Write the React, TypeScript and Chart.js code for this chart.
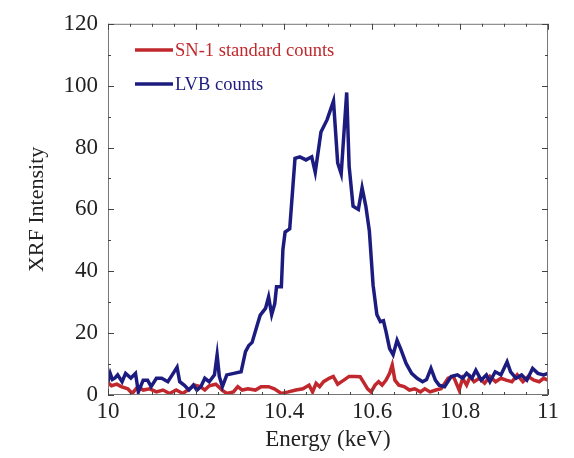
import React, { useEffect, useRef } from "react";
import { Chart, registerables } from "chart.js";

Chart.register(...registerables);

const lvbEnergy = [
  10.0, 10.005, 10.01, 10.016, 10.022, 10.032, 10.04, 10.052, 10.0625, 10.069,
  10.08, 10.09, 10.098, 10.11, 10.122, 10.136, 10.146, 10.157, 10.163, 10.173,
  10.184, 10.194, 10.202, 10.211, 10.22, 10.23, 10.242, 10.248, 10.253, 10.26,
  10.27, 10.286, 10.3025, 10.3125, 10.32, 10.3275, 10.34, 10.346, 10.358, 10.365,
  10.372, 10.379, 10.383, 10.394, 10.3975, 10.4025, 10.413, 10.425, 10.436, 10.45,
  10.463, 10.471, 10.484, 10.498, 10.5125, 10.522, 10.53, 10.5425, 10.548, 10.557,
  10.569, 10.5775, 10.586, 10.594, 10.6025, 10.611, 10.619, 10.626, 10.632, 10.64,
  10.648, 10.657, 10.665, 10.6775, 10.69, 10.7025, 10.715, 10.724, 10.734, 10.744,
  10.7525, 10.765, 10.78, 10.794, 10.806, 10.815, 10.827, 10.836, 10.848, 10.86,
  10.868, 10.88, 10.893, 10.907, 10.915, 10.9275, 10.94, 10.952, 10.965, 10.977,
  10.99, 11.0,
];
const lvbCounts = [
  4.3, 7, 5, 5.5, 6.5, 4.3, 7, 5.5, 7, 1,
  4.8, 4.8, 2.7, 5.4, 5.4, 4.3, 6.5, 9, 4.3, 3.2,
  1.6, 3.2, 1.6, 2.7, 5.4, 4.3, 6.5, 13, 6, 2.7,
  6.5, 7, 7.5, 14, 16, 17, 23, 25.8, 28, 31.7,
  26, 29.5, 35, 35, 47, 52.7, 53.7, 76.5, 77, 76,
  77, 72, 85, 89, 95, 75, 71.5, 97.8, 74, 61,
  60, 67, 61, 53, 35.5, 26, 23.7, 24, 20.4, 15,
  13, 17.7, 15, 10.2, 7, 5.4, 4.3, 5, 8.6, 4.8,
  3.2, 2.7, 6, 6.5, 5.4, 7, 5.4, 8, 4.8, 6.5,
  4.3, 7.5, 6.5, 10.7, 7.5, 5.4, 6.5, 4.8, 8.6, 7,
  6.5, 7,
];

const snEnergy = [
  10.0, 10.008, 10.02, 10.03, 10.045, 10.055, 10.068, 10.08, 10.095, 10.11,
  10.125, 10.14, 10.155, 10.17, 10.185, 10.197, 10.21, 10.22, 10.23, 10.245,
  10.26, 10.27, 10.285, 10.295, 10.305, 10.318, 10.335, 10.348, 10.365, 10.378,
  10.394, 10.41, 10.427, 10.443, 10.457, 10.465, 10.473, 10.481, 10.49, 10.5025,
  10.512, 10.522, 10.536, 10.548, 10.56, 10.573, 10.58, 10.59, 10.598, 10.607,
  10.615, 10.623, 10.632, 10.64, 10.646, 10.652, 10.661, 10.673, 10.685, 10.697,
  10.71, 10.72, 10.732, 10.745, 10.757, 10.773, 10.785, 10.798, 10.806, 10.815,
  10.823, 10.832, 10.844, 10.856, 10.868, 10.881, 10.893, 10.905, 10.918, 10.93,
  10.943, 10.955, 10.968, 10.98, 10.99, 11.0,
];
const snCounts = [
  4, 3, 3.5, 2.7, 2, 0.5, 2.7, 1.6, 2, 1,
  1.6, 0.5, 1.6, 0.5, 2, 3.2, 2.7, 1.6, 3, 3.5,
  1.5, 0.5, 1, 2.7, 1.6, 2, 1.6, 2.7, 2.7, 2,
  0.5, 1, 1.6, 2, 3.2, 1, 3.8, 2.7, 4.3, 5.4,
  6, 3.5, 4.8, 6, 6, 5.9, 4.3, 2, 1, 3.2,
  4.3, 3.2, 4.8, 7, 9.7, 4.8, 3.2, 2.7, 1.6, 2,
  1, 2, 1, 1.6, 2, 5.4, 6, 1.6, 5.4, 3.2,
  6, 4.3, 5.4, 3.8, 6, 4.3, 5.4, 4.8, 4.3, 6.5,
  4.3, 6, 4.8, 4.3, 5.4, 4.8,
];

const xTicks = [10, 10.2, 10.4, 10.6, 10.8, 11];
const yTicks = [0, 20, 40, 60, 80, 100, 120];

const RED = "#c0282d";
const BLUE = "#1c1c80";
const FONT = "'Liberation Serif', 'DejaVu Serif', serif";

const framePlugin = {
  id: "frame",
  afterDraw(chart: any) {
    const { ctx, chartArea } = chart;
    const { left, right, top, bottom } = chartArea;
    const xs = chart.scales.x;
    const ys = chart.scales.y;
    ctx.save();
    ctx.strokeStyle = "#777";
    ctx.lineWidth = 1;
    ctx.strokeRect(left + 0.5, top + 0.5, right - left - 1, bottom - top - 1);
    ctx.strokeStyle = "#444";
    for (let i = 0; i <= 20; i++) {
      const v = 10 + i * 0.05;
      const px = Math.round(xs.getPixelForValue(v)) + 0.5;
      const len = i % 4 === 0 ? 6 : 3;
      ctx.beginPath();
      ctx.moveTo(px, bottom);
      ctx.lineTo(px, bottom - len);
      ctx.moveTo(px, top);
      ctx.lineTo(px, top + len);
      ctx.stroke();
    }
    for (let i = 0; i <= 12; i++) {
      const v = i * 10;
      const py = Math.round(ys.getPixelForValue(v)) + 0.5;
      const len = i % 2 === 0 ? 6 : 3;
      ctx.beginPath();
      ctx.moveTo(left, py);
      ctx.lineTo(left + len, py);
      ctx.moveTo(right, py);
      ctx.lineTo(right - len, py);
      ctx.stroke();
    }
    const items = [
      { label: "SN-1 standard counts", color: RED, y: 50 },
      { label: "LVB counts", color: BLUE, y: 84 },
    ];
    ctx.font = `18.5px ${FONT}`;
    ctx.textBaseline = "middle";
    ctx.textAlign = "left";
    for (const it of items) {
      ctx.strokeStyle = it.color;
      ctx.lineWidth = 3.5;
      ctx.beginPath();
      ctx.moveTo(135, it.y);
      ctx.lineTo(173, it.y);
      ctx.stroke();
      ctx.fillStyle = it.color;
      ctx.fillText(it.label, 175, it.y + 1);
    }
    ctx.restore();
  },
};

export default function App() {
  const ref = useRef<HTMLCanvasElement | null>(null);
  useEffect(() => {
    if (!ref.current) return;
    const chart = new Chart(ref.current, {
      type: "scatter",
      data: {
        datasets: [
          {
            label: "LVB counts",
            data: lvbEnergy.map((x, i) => ({ x, y: lvbCounts[i] })),
            showLine: true,
            borderColor: BLUE,
            borderWidth: 3.5,
            pointRadius: 0,
            tension: 0,
            order: 0,
          },
          {
            label: "SN-1 standard counts",
            data: snEnergy.map((x, i) => ({ x, y: snCounts[i] })),
            showLine: true,
            borderColor: RED,
            borderWidth: 3.5,
            pointRadius: 0,
            tension: 0,
            order: 1,
          },
        ],
      },
      options: {
        responsive: false,
        animation: false,
        events: [],
        layout: { padding: { left: 0, right: 26, top: 22, bottom: 0 } },
        plugins: { legend: { display: false }, tooltip: { enabled: false } },
        scales: {
          x: {
            type: "linear",
            min: 10,
            max: 11,
            afterBuildTicks: (s: any) => {
              s.ticks = xTicks.map((v) => ({ value: v }));
            },
            afterFit: (s: any) => {
              s.height = 63;
            },
            grid: { display: false, drawTicks: false },
            border: { display: false },
            ticks: {
              color: "#222",
              padding: 3,
              maxRotation: 0,
              autoSkip: false,
              font: { family: FONT, size: 23 },
              callback: (v: any) => String(Math.round(Number(v) * 10) / 10),
            },
            title: {
              display: true,
              text: "Energy (keV)",
              color: "#222",
              font: { family: FONT, size: 23 },
              padding: { top: 0, bottom: 4 },
            },
          },
          y: {
            type: "linear",
            min: 0,
            max: 120,
            afterBuildTicks: (s: any) => {
              s.ticks = yTicks.map((v) => ({ value: v }));
            },
            afterFit: (s: any) => {
              s.width = 108;
            },
            grid: { display: false, drawTicks: false },
            border: { display: false },
            ticks: {
              color: "#222",
              padding: 10,
              font: { family: FONT, size: 23 },
            },
            title: {
              display: true,
              text: "XRF Intensity",
              color: "#222",
              font: { family: FONT, size: 22 },
              padding: { top: 24, bottom: 0 },
            },
          },
        },
      },
      plugins: [framePlugin],
    });
    return () => chart.destroy();
  }, []);
  return (
    <div style={{ position: "fixed", left: 0, top: 0, width: 574, height: 458, background: "#fff" }}>
      <canvas ref={ref} width={574} height={458} style={{ display: "block" }} />
    </div>
  );
}
